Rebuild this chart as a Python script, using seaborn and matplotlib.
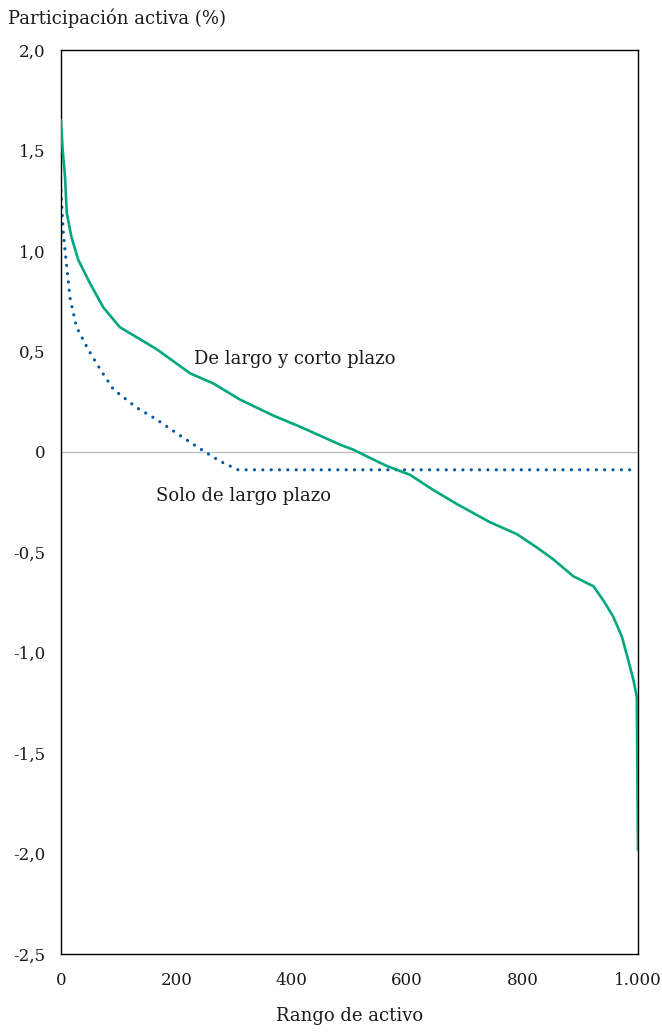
import numpy as np
import pandas as pd
import matplotlib
matplotlib.use("Agg")
import matplotlib.pyplot as plt
import seaborn as sns
from matplotlib.ticker import FuncFormatter

# datos
rango_total = [0, 3, 7, 10, 18, 30, 50, 73, 102, 137, 166, 224, 264, 310, 368, 414,
               484, 507, 530, 564, 605, 645, 686, 743, 790, 824, 853, 888, 923, 940,
               957, 972, 983, 992, 998, 1000]
largo_corto = [1.65, 1.50, 1.37, 1.19, 1.07, 0.955, 0.84, 0.72, 0.62, 0.56, 0.51, 0.39,
               0.34, 0.26, 0.18, 0.125, 0.035, 0.01, -0.023, -0.07, -0.115, -0.19, -0.26,
               -0.35, -0.41, -0.475, -0.535, -0.62, -0.67, -0.74, -0.82, -0.92, -1.035,
               -1.135, -1.22, -1.98]

rango_largo = [0, 4, 10, 16, 27, 47, 68, 91, 131, 166, 200, 235, 276, 307, 1000]
solo_largo = [1.30, 1.09, 0.92, 0.76, 0.62, 0.51, 0.41, 0.31, 0.22, 0.16, 0.093, 0.026,
              -0.048, -0.09, -0.09]

xticks = [0, 200, 400, 600, 800, 1000]
yticks = [-2.5, -2.0, -1.5, -1.0, -0.5, 0, 0.5, 1.0, 1.5, 2.0]

verde = "#00A77F"
azul = "#0057A8"

sns.set_style("white")
plt.rcParams['font.family'] = ['DejaVu Serif']

fig = plt.figure(figsize=(6.62, 10.32), dpi=100)
ax = fig.add_axes([0.0921, 0.0756, 0.8716, 0.876])

ax.axhline(0, color="#BFBFBF", linewidth=1.0, zorder=1)

df1 = pd.DataFrame({"rango": rango_total, "valor": largo_corto})
df2 = pd.DataFrame({"rango": rango_largo, "valor": solo_largo})

sns.lineplot(data=df1, x="rango", y="valor", ax=ax, color=verde, linewidth=1.9,
             sort=False, zorder=3)
sns.lineplot(data=df2, x="rango", y="valor", ax=ax, color=azul, linewidth=2.3,
             linestyle=(0, (0.01, 2.6)), dash_capstyle="round", sort=False, zorder=2)

ax.set_xlim(0, 1000)
ax.set_ylim(-2.5, 2.0)
ax.set_xticks(xticks)
ax.set_yticks(yticks)


def fmt_x(v, pos):
    return f"{int(v):,}".replace(",", ".")


def fmt_y(v, pos):
    if abs(v) < 1e-9:
        return "0"
    return f"{v:.1f}".replace(".", ",")


ax.xaxis.set_major_formatter(FuncFormatter(fmt_x))
ax.yaxis.set_major_formatter(FuncFormatter(fmt_y))

fs = 13
ax.tick_params(axis="both", direction="in", length=5, width=1, color="black",
               labelsize=12, labelcolor="#1a1a1a")
ax.tick_params(axis="x", pad=13)
ax.tick_params(axis="y", pad=11)
for s in ax.spines.values():
    s.set_color("black")
    s.set_linewidth(1.0)

ax.set_xlabel("Rango de activo", fontsize=fs, labelpad=13, color="#1a1a1a")
ax.set_ylabel("")
fig.text(8 / 662, 1 - 18 / 1032, "Participación activa (%)", fontsize=fs,
         ha="left", va="center", color="#1a1a1a")

ax.text(231, 0.46, "De largo y corto plazo", fontsize=fs, ha="left", va="center",
        color="#1a1a1a")
ax.text(165, -0.22, "Solo de largo plazo", fontsize=fs, ha="left", va="center",
        color="#1a1a1a")

fig.savefig("out.png", dpi=100)
